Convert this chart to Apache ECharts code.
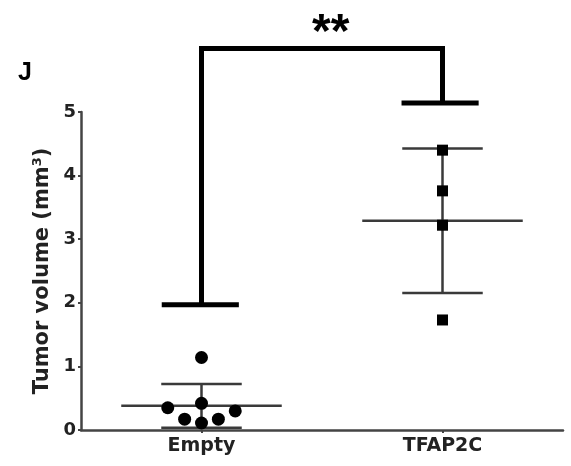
<!DOCTYPE html>
<html>
<head>
<meta charset="utf-8">
<script src="https://cdn.jsdelivr.net/npm/echarts@6/dist/echarts.min.js"></script>
<style>
  html, body { margin: 0; padding: 0; background: #fff; }
  #main { width: 571px; height: 466px; }
</style>
</head>
<body>
<div id="main"></div>
<script>
// groups and where they sit on the x axis
const groups = ['Empty', 'TFAP2C'];
const groupPos = [1, 2];

// individual tumours, [x jitter position, volume]
const emptyPoints = [[1.0, 1.14], [0.86, 0.35], [1.0, 0.42], [1.14, 0.30], [0.93, 0.17], [1.0, 0.11], [1.07, 0.17]];
const tfap2cPoints = [[2, 4.40], [2, 3.76], [2, 3.22], [2, 1.73]];

// mean and SD per group
const means = [0.38, 3.29];
const sds = [0.345, 1.135];

// significance bracket: leg bottoms and top line
const bracketLegs = [1.97, 5.14];
const bracketTop = 6.0;
const sigLabel = '**';

const yTicks = [0, 1, 2, 3, 4, 5];

const font = 'DejaVu Sans, sans-serif';
const chart = echarts.init(document.getElementById('main'));

chart.setOption({
  animation: false,
  title: {
    text: 'J',
    left: 13,
    top: 56,
    textStyle: { fontFamily: 'Liberation Sans, Arial, sans-serif', fontSize: 25, fontWeight: 'bold', color: '#000' }
  },
  grid: { left: 81, right: 8, top: 112, bottom: 36 },
  xAxis: {
    type: 'value',
    min: 0.5,
    max: 2.5,
    interval: 0.5,
    splitLine: { show: false },
    axisLine: { lineStyle: { color: '#444', width: 2.5 } },
    axisTick: { customValues: groupPos, length: 3, lineStyle: { color: '#444', width: 2 } },
    axisLabel: {
      customValues: groupPos,
      margin: 7,
      fontFamily: font, fontSize: 19, fontWeight: 'bold', color: '#222',
      formatter: v => groups[groupPos.indexOf(v)] || ''
    }
  },
  yAxis: {
    type: 'value',
    min: 0,
    max: 5,
    interval: 1,
    name: 'Tumor volume (mm{sup|3})',
    nameLocation: 'middle',
    nameGap: 26,
    nameTextStyle: {
      fontFamily: font, fontSize: 21, fontWeight: 'bold', color: '#222',
      rich: { sup: { fontFamily: font, fontSize: 13, fontWeight: 'bold', color: '#222', verticalAlign: 'top', padding: [0, 0, 9, 0] } }
    },
    splitLine: { show: false },
    axisLine: { show: true, lineStyle: { color: '#444', width: 2.5 } },
    axisTick: { show: true, length: 3, lineStyle: { color: '#444', width: 2 } },
    axisLabel: {
      margin: 5,
      fontFamily: font, fontSize: 18, fontWeight: 'bold', color: '#222',
      customValues: yTicks
    }
  },
  series: [
    {
      name: 'mean-sd',
      type: 'custom',
      clip: false,
      data: groupPos.map((p, i) => [p, means[i], sds[i]]),
      renderItem: (params, api) => {
        const x = api.value(0), m = api.value(1), s = api.value(2);
        const style = { stroke: '#3a3a3a', lineWidth: 2.5 };
        const seg = (a, b) => ({ type: 'line', shape: { x1: a[0], y1: a[1], x2: b[0], y2: b[1] }, style });
        return {
          type: 'group',
          children: [
            seg(api.coord([x - 0.333, m]), api.coord([x + 0.333, m])),
            seg(api.coord([x, m - s]), api.coord([x, m + s])),
            seg(api.coord([x - 0.167, m + s]), api.coord([x + 0.167, m + s])),
            seg(api.coord([x - 0.167, m - s]), api.coord([x + 0.167, m - s]))
          ]
        };
      },
      z: 2
    },
    {
      name: 'Empty',
      type: 'scatter',
      symbol: 'circle',
      symbolSize: 13,
      itemStyle: { color: '#000', opacity: 1 },
      data: emptyPoints,
      z: 3
    },
    {
      name: 'TFAP2C',
      type: 'scatter',
      symbol: 'rect',
      symbolSize: 11,
      itemStyle: { color: '#000', opacity: 1 },
      data: tfap2cPoints,
      z: 3
    },
    {
      name: 'bracket',
      type: 'custom',
      clip: false,
      data: [[groupPos[0], groupPos[1], bracketLegs[0], bracketLegs[1], bracketTop]],
      renderItem: (params, api) => {
        const x1 = api.value(0), x2 = api.value(1);
        const l1 = api.value(2), l2 = api.value(3), top = api.value(4);
        const style = { stroke: '#000', lineWidth: 5, fill: null };
        const pl = pts => ({ type: 'polyline', shape: { points: pts.map(p => api.coord(p)) }, style });
        const starPos = api.coord([(x1 + x2) / 2 + 0.036, top]);
        return {
          type: 'group',
          children: [
            pl([[x1, l1], [x1, top], [x2, top], [x2, l2]]),
            pl([[x1 - 0.165, l1], [x1 + 0.155, l1]]),
            pl([[x2 - 0.17, l2], [x2 + 0.15, l2]]),
            {
              type: 'text',
              x: starPos[0],
              y: starPos[1] + 9,
              style: {
                text: sigLabel,
                fontFamily: 'Liberation Sans, Arial, sans-serif', fontSize: 48, fontWeight: 'bold', fill: '#000',
                align: 'center', verticalAlign: 'bottom'
              }
            }
          ]
        };
      },
      z: 4
    }
  ]
});
</script>
</body>
</html>
